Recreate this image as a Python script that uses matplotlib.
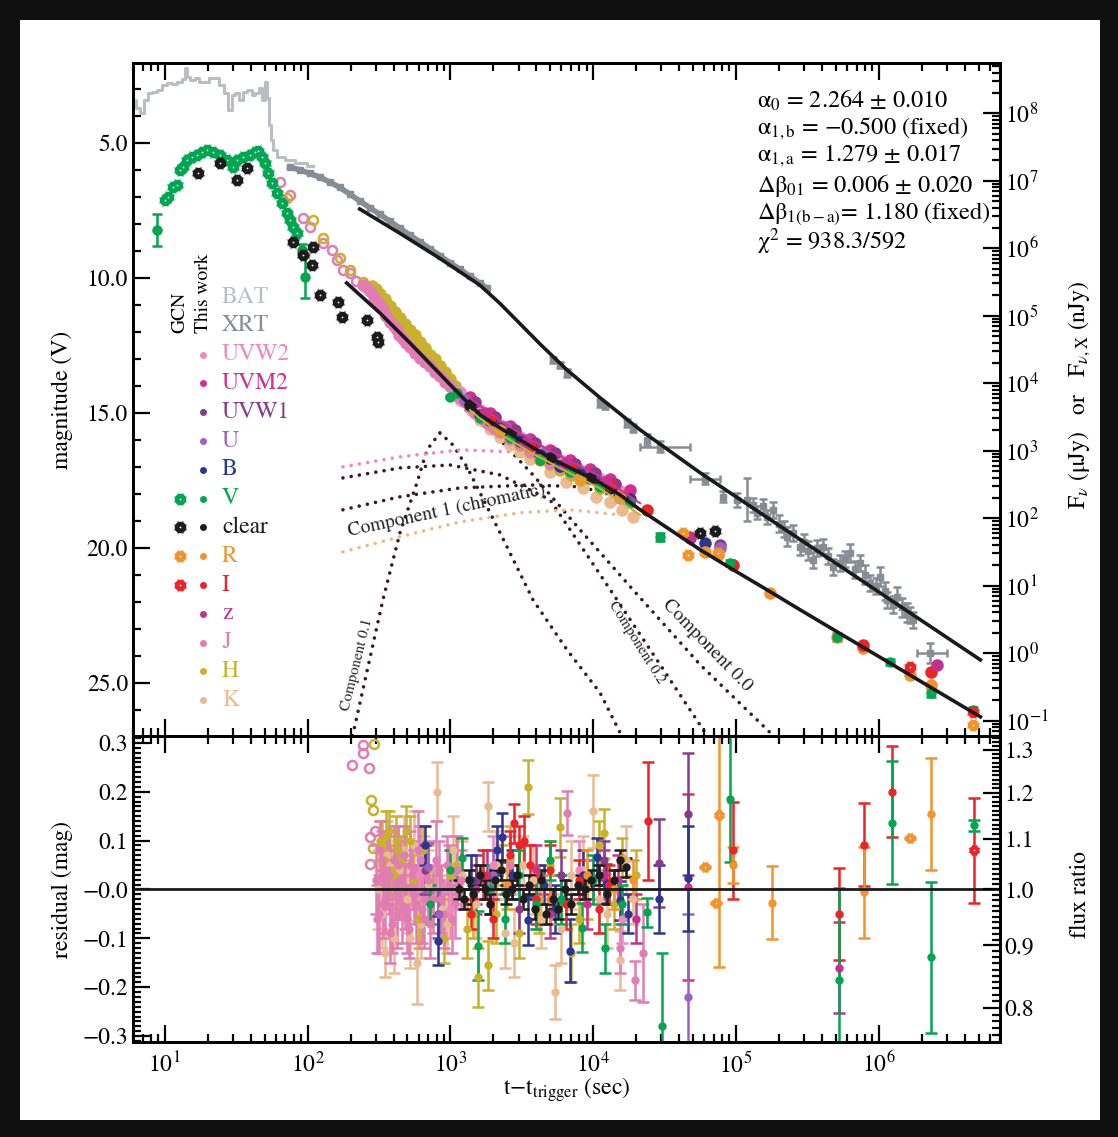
import numpy as np
import matplotlib.pyplot as plt
from matplotlib.patches import Rectangle
from matplotlib.lines import Line2D
from matplotlib.ticker import (LogLocator, FixedLocator, MultipleLocator,
                               FuncFormatter, NullFormatter)

plt.rcParams['font.family'] = ['STIXGeneral', 'DejaVu Serif']
plt.rcParams['mathtext.fontset'] = 'stix'

W, H = 1118, 1137
ZP = 23.9  # AB zero point, uJy

col = {'BAT': '#b9bec5', 'XRT': '#878d95', 'UVW2': '#ef88bf', 'UVM2': '#d2308f',
       'UVW1': '#8a3a8d', 'U': '#9b62c2', 'B': '#2d3593', 'V': '#00a651',
       'clear': '#1c1c1c', 'R': '#f5932b', 'I': '#ec2327', 'z': '#c3318e',
       'J': '#e17db3', 'H': '#c9b22b', 'K': '#eabb91'}
comp_col = '#3b1a22'

# ---------------- light curves (top panel) ----------------
bat_t = [6.0, 6.5, 6.9, 7.4, 7.9, 8.5, 9.2, 10.0, 10.8, 11.7, 12.7, 13.8, 14.0, 14.5,
         15.7, 16.8, 18.2, 19.7, 21.3, 23.1, 25.1, 27.2, 28.6, 30.5, 32.0, 34.1, 36.4,
         39.5, 42.1, 44.2, 47.1, 49.4, 51.1, 52.7, 54.5, 56.3, 59.0, 64.0, 75.2, 88.3, 109]
bat_mag = [3.41, 3.70, 3.89, 3.41, 3.15, 3.11, 3.04, 2.85, 2.78, 2.81, 2.74, 2.63, 2.22, 2.56,
           2.67, 2.59, 2.74, 2.74, 2.59, 2.59, 2.85, 3.15, 3.78, 3.22, 3.15, 3.41, 3.11,
           3.04, 3.22, 3.15, 2.96, 3.41, 2.74, 3.33, 4.33, 4.89, 5.26, 5.52, 5.63, 5.74, 5.85]

xrt_early_t = [75, 88, 104, 122, 143, 168, 198, 232, 273, 321, 377, 444, 521, 612, 719,
               845, 993, 1167, 1371, 1611, 1806]
xrt_early_mag = [5.89, 6.0, 6.13, 6.27, 6.45, 6.65, 6.90, 7.15, 7.40, 7.65, 7.90, 8.16, 8.42,
                 8.66, 8.92, 9.18, 9.44, 9.68, 9.94, 10.2, 10.38]

xrt_t = [5236, 5861, 6560, 11170, 12110, 17280, 19050, 23890, 81330, 101900, 119900, 132100,
         165600, 182500, 228700, 282000, 347700, 408500, 537000, 631000, 741000, 871000,
         1024000, 1148000, 1349000, 1585000, 1746000,
         140000, 155000, 200000, 215000, 250000, 300000, 320000, 370000, 440000, 480000,
         580000, 680000, 800000, 950000, 1100000, 1250000, 1450000, 1650000]
xrt_mag = [13.04, 13.22, 13.52, 14.63, 14.74, 15.37, 15.56, 16.0, 18.11, 18.22, 18.22, 18.41,
           18.85, 18.59, 19.59, 19.96, 20.44, 19.96, 20.56, 20.19, 20.56, 21.30,
           21.07, 21.93, 21.81, 22.41, 22.67,
           18.7, 18.45, 19.1, 19.3, 19.45, 19.8, 20.1, 20.0, 20.3, 20.7,
           20.4, 20.8, 21.0, 21.4, 21.6, 22.1, 22.2, 22.5]
xrt_err = [0.12, 0.12, 0.15, 0.15, 0.12, 0.15, 0.15, 0.2, 0.2, 0.25, 0.8, 0.25,
           0.25, 0.3, 0.35, 0.3, 0.3, 0.3, 0.3, 0.35, 0.3, 0.3,
           0.35, 0.3, 0.35, 0.35, 0.3,
           0.25, 0.25, 0.3, 0.3, 0.3, 0.3, 0.35, 0.3, 0.3, 0.3,
           0.3, 0.3, 0.35, 0.3, 0.35, 0.3, 0.35, 0.3]
xrt_wide_t = [29440, 60810, 2297000]
xrt_wide_lo = [21320, 47760, 1862000]
xrt_wide_hi = [47760, 77470, 3020000]
xrt_wide_mag = [16.26, 17.44, 23.89]
xrt_wide_err = [0.2, 0.2, 0.37]

# GCN points
v_gcn_t = [10.0, 10.5, 11.4, 12.1, 12.7, 13.4, 14.3, 15.5, 16.8, 18.2, 19.7, 21.7, 24.3,
           27.2, 30.0, 32.0, 35.2, 39.5, 42.7, 44.8, 47.8, 50.2, 52.7, 56.2, 60.9, 66.0,
           71.5, 75.0, 78.7, 84.0]
v_gcn_mag = [7.11, 7.0, 6.63, 6.56, 6.0, 5.89, 5.63, 5.52, 5.44, 5.33, 5.26, 5.33, 5.44,
             5.63, 5.89, 5.63, 5.52, 5.44, 5.33, 5.30, 5.52, 5.74, 6.11, 6.48, 6.85, 7.22,
             7.59, 7.85, 8.11, 8.33]
clear_gcn_t = [17.0, 24.3, 32.0, 37.6, 78.9, 92.7, 109, 107, 122, 163, 174, 261, 306, 311,
               56100, 71500]
clear_gcn_mag = [6.11, 5.74, 6.37, 5.93, 8.67, 9.15, 8.85, 9.52, 10.63, 10.89, 11.44, 11.56,
                 12.19, 12.37, 19.44, 19.37]
r_gcn_t = [42700, 46200, 75000, 4590000]
r_gcn_mag = [19.44, 20.26, 20.19, 26.56]
i_gcn_t = [1660000, 4590000]
i_gcn_mag = [24.41, 26.07]

# this work
v_t = [8.9, 91.0, 95.7, 993, 1112, 1611, 2617, 4246, 6890, 11170, 18150, 29440, 91000,
       512000, 1205000, 2300000, 4590000]
v_mag = [8.22, 8.96, 9.96, 14.41, 14.26, 15.19, 15.93, 16.74, 17.19, 17.74, 18.33, 19.59,
         20.56, 23.30, 24.22, 25.37, 26.0]
v_err = [0.6, 0.2, 0.8, 0.05, 0.05, 0.05, 0.05, 0.05, 0.05, 0.05, 0.05, 0.15, 0.12,
         0.15, 0.12, 0.15, 0.1]
uvw2_t = [1167, 1611, 2228, 3076, 4246, 5861, 8090, 11170, 15440, 1400, 1950, 2650, 3600,
          5000, 6900, 9500]
uvw2_mag = [14.22, 14.89, 15.44, 15.9, 16.4, 16.75, 17.1, 17.45, 17.9, 14.6, 15.15, 15.65,
            16.15, 16.55, 16.9, 17.25]
uvm2_t = [1371, 1895, 2617, 3614, 4990, 6890, 9520, 13130, 18150, 47760]
uvm2_mag = [14.41, 15.0, 15.5, 15.95, 16.38, 16.75, 17.08, 17.45, 17.85, 19.59]
uvw1_t = [1486, 2054, 2838, 3917, 5410, 7470, 10310, 14230, 77470]
uvw1_mag = [14.59, 15.15, 15.65, 16.1, 16.5, 16.88, 17.22, 17.62, 19.89]
u_t = [1265, 1748, 2414, 3334, 4600, 6350, 8770, 12110, 77470]
u_mag = [14.52, 15.04, 15.52, 16.0, 16.5, 16.88, 17.26, 17.64, 20.0]
b_t = [1611, 2228, 3076, 4246, 5861, 8090, 11170, 18150, 60800]
b_mag = [15.07, 15.56, 16.05, 16.55, 16.95, 17.28, 17.65, 18.2, 19.81]
clear_t = [1371, 1895, 2617, 3614, 4990, 6890, 9520, 13130]
clear_mag = [14.70, 15.26, 15.75, 16.2, 16.68, 17.08, 17.4, 17.78]
r_t = [2228, 4246, 8090, 15440, 60800, 75000, 174000, 512000, 778000, 1660000, 2300000]
r_mag = [15.63, 16.74, 17.41, 18.11, 20.15, 20.26, 21.67, 23.30, 23.70, 24.70, 25.07]
i_t = [1895, 3614, 6890, 13130, 23900, 95500, 778000, 2300000]
i_mag = [15.19, 16.22, 17.04, 17.67, 18.59, 20.63, 23.59, 24.59]
z_t = [1748, 3334, 6350, 12110, 47760, 2570000]
z_mag = [15.0, 16.11, 16.89, 17.56, 19.63, 24.33]
j_t = [244, 273, 306, 337, 377, 423, 465, 521, 612, 719, 845, 993, 1167, 1371, 1611, 1895,
       2228, 3076, 4246, 5861, 8090, 11170, 15440,
       255, 290, 320, 355, 400, 440, 490, 565, 660, 780, 920, 1080, 1270, 1490, 1750, 2050,
       2600, 3600, 5000, 7000]
j_mag = [10.25, 10.50, 10.87, 11.17, 11.62, 11.93, 12.25, 12.55, 12.95, 13.28, 13.63, 14.02,
         14.44, 14.78, 15.15, 15.44, 15.70, 16.15, 16.6, 17.0, 17.33, 17.68, 18.15,
         10.35, 10.72, 11.0, 11.4, 11.78, 12.1, 12.42, 12.78, 13.12, 13.5, 13.85, 14.25, 14.6,
         15.0, 15.3, 15.6, 15.95, 16.4, 16.85, 17.2]
j_open_t = [64, 75, 92.7, 104, 128, 148, 160, 177, 198, 220]
j_open_mag = [6.44, 6.93, 7.78, 8.11, 8.70, 8.96, 9.33, 9.70, 9.81, 10.1]
h_t = [282, 321, 377, 444, 521, 612, 719, 845, 993, 1167, 1611, 2228, 3076, 4246, 5861,
       8090, 11170,
       300, 350, 410, 480, 565, 665, 780, 920, 1080, 1350, 1900, 2600, 3600, 5000, 7000]
h_mag = [10.3, 10.6, 11.05, 11.5, 11.92, 12.38, 12.85, 13.28, 13.75, 14.26, 15.0, 15.63,
         16.2, 16.7, 17.1, 17.48, 17.78,
         10.4, 10.8, 11.28, 11.7, 12.12, 12.6, 13.02, 13.5, 14.0, 14.6, 15.35, 15.9, 16.45,
         16.9, 17.3]
h_open_t = [71.6, 109, 128, 168, 198, 244, 292]
h_open_mag = [7.04, 7.85, 8.52, 9.26, 9.70, 10.15, 10.44]
k_t = [321, 444, 612, 845, 1167, 1611, 2228, 3076, 4990, 8490, 13130, 19050,
       350, 400, 520, 720, 1000, 1400, 1900, 2600, 3600, 6500, 10500, 16000]
k_mag = [11.0, 11.85, 12.67, 13.59, 14.52, 15.26, 15.89, 16.44, 17.2, 17.8, 18.3, 18.85,
         11.3, 11.55, 12.3, 13.1, 14.0, 14.9, 15.6, 16.2, 16.7, 17.55, 18.1, 18.6]

# models
opt_model_t = [188, 321, 521, 845, 1167, 1611, 2228, 3076, 4990, 8090, 11170, 15440, 21320,
               34590, 56110, 95450, 165500, 282000, 537000, 1415000, 5140000]
opt_model_mag = [10.19, 11.30, 12.41, 13.56, 14.33, 15.07, 15.56, 16.0, 16.67, 17.22, 17.59,
                 18.04, 18.59, 19.33, 20.07, 20.81, 21.56, 22.30, 23.18, 24.5, 26.26]
uvm2_model_t = [1371, 2228, 3614, 5861, 11170, 21320]
uvm2_model_mag = [14.45, 15.3, 15.98, 16.6, 17.35, 18.35]
k_model_t = [1371, 2228, 3614, 5861, 11170, 21320]
k_model_mag = [14.9, 15.78, 16.45, 17.05, 17.8, 18.78]
xrt_model_t = [232, 444, 845, 1611, 2228, 3076, 4246, 6560, 11170, 21320, 56110, 165500,
               537000, 1415000, 5140000]
xrt_model_mag = [7.45, 8.35, 9.28, 10.27, 10.95, 11.7, 12.45, 13.41, 14.44, 15.63, 17.22,
                 18.88, 20.68, 22.17, 24.15]

comp01_t = [207, 337, 444, 584, 686, 845, 1043, 1307, 2228, 3793, 6560, 11170, 15440]
comp01_mag = [26.96, 21.93, 19.44, 17.59, 16.37, 15.74, 16.19, 17.0, 19.44, 21.93, 23.78,
              25.37, 26.85]
comp02_t = [177, 444, 993, 2228, 4990, 14700, 29440, 62800]
comp02_mag = [17.41, 17.04, 16.93, 17.30, 18.22, 21.93, 24.33, 26.96]
comp00_t = [1167, 2228, 3793, 8090, 19050, 56110, 182500]
comp00_mag = [14.70, 16.0, 17.30, 19.33, 21.56, 24.33, 26.96]
comp1_v_t = [177, 444, 1167, 3614, 8090, 15440]
comp1_v_mag = [18.59, 18.11, 17.78, 17.67, 17.74, 18.11]
comp1_uvw2_t = [177, 444, 1167, 2617, 4990]
comp1_uvw2_mag = [17.0, 16.63, 16.37, 16.44, 16.74]
comp1_k_t = [177, 444, 1167, 3076, 6890, 15440]
comp1_k_mag = [20.15, 19.59, 19.04, 18.70, 18.59, 18.78]

# ---------------- residuals (bottom panel) ----------------
j_res_t = [300, 315, 330, 350, 370, 390, 410, 430, 455, 480, 510, 540, 575, 610, 650, 700,
           760, 830, 900, 980, 1080, 1180, 2600, 6560, 15420, 19700, 22400,
           305, 322, 340, 360, 380, 400, 420, 445, 470, 495, 525, 560, 590, 630, 670, 720,
           790, 860, 940, 1020, 1120]
j_res = [0.02, -0.05, 0.06, -0.02, 0.03, -0.07, 0.01, 0.05, -0.04, 0.0, -0.08, 0.03, -0.03,
         0.06, -0.06, 0.02, -0.02, 0.04, -0.05, 0.01, -0.03, 0.02, 0.05, 0.156, -0.12,
         -0.186, -0.13,
         -0.06, 0.08, -0.03, 0.04, -0.09, 0.06, -0.05, 0.02, 0.07, -0.06, 0.05, -0.01, 0.08,
         -0.04, 0.03, -0.07, 0.06, -0.02, 0.05, -0.06, 0.04]
j_res_err = [0.07, 0.08, 0.06, 0.07, 0.08, 0.06, 0.07, 0.08, 0.07, 0.08, 0.06, 0.07, 0.08,
             0.07, 0.06, 0.08, 0.07, 0.06, 0.07, 0.08, 0.07, 0.06, 0.06, 0.045, 0.05,
             0.04, 0.1,
             0.07, 0.06, 0.07, 0.08, 0.06, 0.07, 0.07, 0.08, 0.06, 0.07, 0.07, 0.06, 0.08,
             0.07, 0.06, 0.07, 0.08, 0.07, 0.06, 0.07, 0.07]
j_open_res_t = [204, 244, 244, 269, 273, 273, 296]
j_open_res = [0.254, 0.295, 0.28, 0.248, 0.107, 0.053, 0.12]
h_open_res_t = [292, 278, 287, 287]
h_open_res = [0.297, 0.184, 0.162, 0.084]
h_res_t = [320, 345, 370, 400, 430, 470, 520, 600, 700, 900, 1100, 1300, 1560, 1837, 2100,
           2600, 3500, 4200, 5861, 7000, 9000, 12000, 16000, 20000,
           330, 355, 385, 415, 450, 490, 550, 640, 760, 1000, 1450, 2300, 3000, 5000, 8000,
           11000, 14000]
h_res = [0.10, 0.06, 0.12, 0.03, 0.08, 0.0, 0.10, -0.06, 0.04, -0.10, 0.05, -0.08, -0.18,
         -0.155, -0.05, 0.06, 0.21, -0.02, 0.127, -0.13, 0.0, 0.115, 0.065, 0.03,
         0.09, 0.11, 0.04, 0.10, 0.06, 0.12, 0.02, 0.08, -0.02, 0.03, -0.05, 0.04, -0.09,
         0.05, -0.06, 0.09, -0.03]
h_res_err = [0.04, 0.05, 0.04, 0.05, 0.05, 0.06, 0.05, 0.06, 0.05, 0.05, 0.06, 0.06, 0.06,
             0.05, 0.06, 0.07, 0.055, 0.07, 0.06, 0.06, 0.06, 0.05, 0.04, 0.05,
             0.05, 0.05, 0.05, 0.05, 0.05, 0.05, 0.05, 0.05, 0.05, 0.05, 0.05, 0.05, 0.05,
             0.05, 0.05, 0.05, 0.05]
k_res_t = [310, 348, 380, 420, 470, 520, 584, 650, 806, 950, 1200, 1837, 2400, 3200, 4300,
           5410, 7000, 9980, 12500, 15420, 19000,
           330, 360, 400, 440, 500, 560, 620, 700, 880, 1050, 1500, 2100, 2800, 3800, 6000,
           8500, 11000, 17000]
k_res = [0.0, -0.13, 0.05, -0.05, 0.08, -0.10, -0.15, 0.04, 0.20, -0.07, 0.03, 0.17, -0.09,
         0.05, -0.06, -0.21, 0.03, 0.16, -0.05, -0.145, -0.02,
         -0.05, 0.07, -0.1, 0.04, -0.02, 0.09, -0.07, 0.01, -0.04, 0.08, -0.03, 0.05, -0.11,
         0.02, -0.08, 0.04, -0.02, 0.06]
k_res_err = [0.08, 0.05, 0.07, 0.06, 0.07, 0.06, 0.085, 0.07, 0.06, 0.06, 0.07, 0.05, 0.07,
             0.06, 0.06, 0.055, 0.07, 0.075, 0.07, 0.06, 0.05,
             0.07, 0.07, 0.07, 0.07, 0.07, 0.07, 0.07, 0.07, 0.07, 0.07, 0.07, 0.07, 0.07,
             0.07, 0.07, 0.07, 0.07, 0.07]
uvw2_res_t = [600, 1000, 2000, 4000, 8000, 16000]
uvw2_res = [0.03, -0.04, 0.05, -0.02, 0.04, -0.06]
uvw2_res_err = [0.06, 0.06, 0.06, 0.06, 0.06, 0.05]
uvm2_res_t = [1500, 4000, 9000, 15000, 46200]
uvm2_res = [0.0, 0.04, -0.03, 0.02, 0.005]
uvm2_res_err = [0.05, 0.05, 0.05, 0.05, 0.19]
uvw1_res_t = [663, 820, 1500, 3000, 6000, 12000, 29000, 46200]
uvw1_res = [0.04, -0.05, 0.02, -0.04, 0.03, 0.06, 0.055, 0.155]
uvw1_res_err = [0.05, 0.05, 0.05, 0.05, 0.05, 0.04, 0.09, 0.125]
u_res_t = [700, 830, 2000, 5000, 10000, 46200]
u_res = [0.045, -0.05, 0.03, -0.02, 0.02, -0.22]
u_res_err = [0.05, 0.05, 0.05, 0.05, 0.04, 0.17]
b_res_t = [663, 818, 1400, 2125, 2300, 2700, 3500, 4500, 5400, 6890, 8500, 10640, 12200,
           15400, 17500, 29000, 46200]
b_res = [0.09, -0.105, 0.02, 0.08, 0.107, 0.03, -0.063, 0.01, -0.04, -0.125, 0.03, 0.066,
         0.012, -0.022, -0.05, -0.02, 0.023]
b_res_err = [0.04, 0.05, 0.05, 0.05, 0.05, 0.05, 0.05, 0.04, 0.05, 0.065, 0.05, 0.04, 0.04,
             0.04, 0.04, 0.07, 0.107]
v_res_t = [719, 1000, 1200, 1560, 1900, 2400, 3000, 4000, 5000, 6000, 8360, 10000, 12110,
           16000, 23900, 30400, 91000, 528000, 1245000, 2330000, 4670000]
v_res = [-0.03, 0.04, 0.065, -0.115, 0.0, -0.06, 0.03, -0.03, 0.06, -0.02, -0.078, 0.02,
         -0.12, -0.03, -0.047, -0.28, 0.186, -0.186, 0.137, -0.139, 0.131]
v_res_err = [0.04, 0.04, 0.04, 0.07, 0.05, 0.05, 0.05, 0.05, 0.04, 0.05, 0.05, 0.05, 0.05,
             0.04, 0.03, 0.15, 0.13, 0.19, 0.125, 0.155, 0.012]
clear_res_t = [1150, 1250, 1350, 1450, 1600, 1750, 1900, 2050, 2250, 2450, 2700, 2950, 3250,
               3550, 3900, 4300, 4700, 5200, 5700, 6300, 7000, 7800, 8700, 9600, 11000,
               12500, 14000, 15500, 17000]
clear_res = [0.0, -0.02, 0.02, -0.01, 0.03, 0.0, -0.03, 0.02, 0.04, -0.01, 0.0, 0.03, -0.02,
             0.01, -0.04, 0.02, -0.05, -0.02, -0.04, 0.0, -0.03, 0.01, 0.0, 0.02, 0.03,
             -0.01, 0.02, 0.06, 0.045]
clear_res_err = [0.02] * 29
r_res_t = [2500, 5000, 9000, 14000, 19000, 95500, 179500, 790000, 2330000]
r_res = [0.01, -0.02, 0.03, 0.0, 0.02, 0.05, -0.027, -0.006, 0.155]
r_res_err = [0.05, 0.05, 0.05, 0.04, 0.04, 0.037, 0.075, 0.093, 0.115]
r_gcn_res_t = [60800, 72600, 76200, 1660000]
r_gcn_res = [0.045, -0.027, 0.152, 0.105]
r_gcn_res_err = [0.0, 0.0, 0.31, 0.0]
i_res_t = [1400, 1700, 2000, 2600, 2800, 3000, 3300, 3600, 4000, 5000, 6500, 8000, 11000,
           13000, 24300, 95500, 528000, 790000, 1245000]
i_res = [-0.05, 0.03, -0.06, 0.07, 0.135, 0.09, 0.10, 0.05, -0.02, 0.04, -0.03, 0.02, -0.04,
         0.01, 0.14, 0.08, -0.05, 0.092, 0.2]
i_res_err = [0.03, 0.05, 0.04, 0.05, 0.04, 0.04, 0.05, 0.04, 0.05, 0.05, 0.05, 0.04, 0.05,
             0.04, 0.12, 0.1, 0.094, 0.084, 0.093]
i_gcn_res_t = [4670000]
i_gcn_res = [0.08]
i_gcn_res_err = [0.107]
z_res_t = [1800, 5000, 12000, 20000, 528000]
z_res = [0.03, -0.05, 0.03, -0.06, -0.16]
z_res_err = [0.05, 0.05, 0.05, 0.05, 0.093]

legend_bands = ['BAT', 'XRT', 'UVW2', 'UVM2', 'UVW1', 'U', 'B', 'V', 'clear', 'R', 'I',
                'z', 'J', 'H', 'K']
legend_gcn = ['V', 'clear', 'R', 'I']

params_text = ['α$_0$ = 2.264 ± 0.010',
               'α$_{\\mathrm{1,b}}$ = −0.500 (fixed)',
               'α$_{\\mathrm{1,a}}$ = 1.279 ± 0.017',
               'Δβ$_{\\mathrm{01}}$ = 0.006 ± 0.020',
               'Δβ$_{\\mathrm{1(b-a)}}$= 1.180 (fixed)',
               'χ$^2$ = 938.3/592']


def fx(x):
    return x / W


def fy(y):
    return 1 - y / H


GEAR = [((8, 1, 22.5), 1.2), ('o', 0.92)]


def gear(a, t, m, c, ms=9):
    for mk, sc in GEAR:
        a.plot(t, m, ls='none', marker=mk, ms=ms * sc, color=c, mew=0, zorder=4)
    a.plot(t, m, ls='none', marker='o', ms=ms * 0.14, color='white', mew=0, zorder=4)


def dots(a, t, m, c, e=None, ms=4.5, lw=1.8, cs=3.5, z=3):
    a.errorbar(t, m, yerr=e, fmt='o', color=c, mec=c, ms=ms, lw=lw, capsize=cs,
               capthick=lw, zorder=z)


fig = plt.figure(figsize=(W / 100, H / 100), dpi=100)
fig.patch.set_facecolor('#101010')
fig.add_artist(Rectangle((fx(20), fy(1120)), fx(1100) - fx(20), fy(20) - fy(1120),
                         transform=fig.transFigure, facecolor='white', edgecolor='none',
                         zorder=-10))

ax = fig.add_axes([fx(133), fy(736), fx(1000) - fx(133), fy(63) - fy(736)])
axb = fig.add_axes([fx(133), fy(1042), fx(1000) - fx(133), fy(736) - fy(1042)], sharex=ax)

# ---- top panel ----
ax.set_xscale('log')
ax.set_xlim(6.0, 7.05e6)
ax.set_ylim(26.97, 2.04)

ax.plot(bat_t, bat_mag, drawstyle='steps-mid', color=col['BAT'], lw=2.2, zorder=2)
ax.plot(xrt_early_t, xrt_early_mag, color=col['XRT'], lw=4, marker='s', ms=4, zorder=2)
ax.errorbar(xrt_t, xrt_mag, yerr=xrt_err, fmt='s', color=col['XRT'], mec=col['XRT'], ms=5,
            lw=1.8, capsize=3, capthick=1.8, zorder=2)
ax.errorbar(xrt_wide_t, xrt_wide_mag, yerr=xrt_wide_err,
            xerr=[np.subtract(xrt_wide_t, xrt_wide_lo), np.subtract(xrt_wide_hi, xrt_wide_t)],
            fmt='s', color=col['XRT'], mec=col['XRT'], ms=5, lw=1.8, capsize=3,
            capthick=1.8, zorder=2)

for t, m, c in [(comp01_t, comp01_mag, comp_col), (comp02_t, comp02_mag, comp_col),
                (comp00_t, comp00_mag, comp_col), (comp1_v_t, comp1_v_mag, comp_col),
                (comp1_uvw2_t, comp1_uvw2_mag, col['UVW2']),
                (comp1_k_t, comp1_k_mag, col['K'])]:
    ax.plot(t, m, ls=(0, (0.01, 2.3)), color=c, lw=2.6, dash_capstyle='round', zorder=1)

ax.plot(j_open_t, j_open_mag, 'o', mfc='none', mec=col['J'], mew=1.8, ms=6.5, zorder=3)
ax.plot(h_open_t, h_open_mag, 'o', mfc='none', mec=col['H'], mew=1.8, ms=6.5, zorder=3)
for t, m, b in [(k_t, k_mag, 'K'), (h_t, h_mag, 'H'), (j_t, j_mag, 'J'),
                (uvw2_t, uvw2_mag, 'UVW2'), (uvm2_t, uvm2_mag, 'UVM2'),
                (uvw1_t, uvw1_mag, 'UVW1'), (u_t, u_mag, 'U'), (b_t, b_mag, 'B'),
                (clear_t, clear_mag, 'clear'), (r_t, r_mag, 'R'), (i_t, i_mag, 'I'),
                (z_t, z_mag, 'z')]:
    dots(ax, t, m, col[b], ms=8)
dots(ax, v_t, v_mag, col['V'], e=v_err, ms=6.5)

gear(ax, v_gcn_t, v_gcn_mag, col['V'])
gear(ax, clear_gcn_t, clear_gcn_mag, col['clear'])
gear(ax, r_gcn_t, r_gcn_mag, col['R'])
gear(ax, i_gcn_t, i_gcn_mag, col['I'])

ax.plot(uvm2_model_t, uvm2_model_mag, color=col['UVM2'], lw=1.5, zorder=5)
ax.plot(k_model_t, k_model_mag, color=col['H'], lw=1.5, zorder=5)
ax.plot(opt_model_t, opt_model_mag, color='#1a1a1a', lw=2.6, zorder=6)
ax.plot(xrt_model_t, xrt_model_mag, color='#1a1a1a', lw=2.6, zorder=6)

ax.yaxis.set_major_locator(MultipleLocator(5))
ax.yaxis.set_minor_locator(MultipleLocator(1))
ax.yaxis.set_major_formatter(FuncFormatter(lambda v, p: f'{v:.1f}'))

ax.text(fx(357), fy(665), 'Component 0.1', transform=fig.transFigure, rotation=76,
        ha='center', va='center', fontsize=11, color='#222222')
ax.text(fx(447), fy(511), 'Component 1 (chromatic)', transform=fig.transFigure, rotation=12,
        ha='center', va='center', fontsize=14, color='#222222')
ax.text(fx(637), fy(642), 'Component 0.2', transform=fig.transFigure, rotation=-58,
        ha='center', va='center', fontsize=11, color='#222222')
ax.text(fx(707), fy(645), 'Component 0.0', transform=fig.transFigure, rotation=-46,
        ha='center', va='center', fontsize=14, color='#222222')

for k, s in enumerate(params_text):
    fig.text(fx(757), fy(100 + 28.4 * k), s, ha='left', va='center', fontsize=17.5)

# legend
fig.text(fx(180), fy(333), 'GCN', rotation=90, ha='center', va='bottom', fontsize=14)
fig.text(fx(203), fy(333), 'This work', rotation=90, ha='center', va='bottom', fontsize=14)
for k, b in enumerate(legend_bands):
    yy = fy(297 + 28.8 * k)
    fig.text(fx(222), yy, b, ha='left', va='center', fontsize=17, color=col[b])
    if k >= 2:
        fig.add_artist(Line2D([fx(203)], [yy], marker='o', ms=5, color=col[b], mew=0,
                              transform=fig.transFigure))
    if b in legend_gcn:
        for mk, sc in GEAR:
            fig.add_artist(Line2D([fx(180)], [yy], marker=mk, ms=9 * sc, color=col[b], mew=0,
                                  transform=fig.transFigure))
        fig.add_artist(Line2D([fx(180)], [yy], marker='o', ms=9 * 0.14, color='white', mew=0,
                              transform=fig.transFigure))

axr = ax.twinx()
axr.set_yscale('log')
axr.set_ylim(10 ** ((ZP - 26.97) / 2.5), 10 ** ((ZP - 2.04) / 2.5))
axr.yaxis.set_major_locator(FixedLocator([1e-1, 1e0, 1e1, 1e2, 1e3, 1e4, 1e5, 1e6, 1e7, 1e8]))
axr.yaxis.set_minor_locator(LogLocator(base=10, subs=np.arange(2, 10), numticks=20))
axr.yaxis.set_minor_formatter(NullFormatter())

# ---- bottom panel ----
axb.set_ylim(-0.312, 0.314)
axb.axhline(0, color='#1a1a1a', lw=2, zorder=6)
for t, r, e, b in [(k_res_t, k_res, k_res_err, 'K'), (h_res_t, h_res, h_res_err, 'H'),
                   (j_res_t, j_res, j_res_err, 'J'),
                   (uvw2_res_t, uvw2_res, uvw2_res_err, 'UVW2'),
                   (uvm2_res_t, uvm2_res, uvm2_res_err, 'UVM2'),
                   (uvw1_res_t, uvw1_res, uvw1_res_err, 'UVW1'),
                   (u_res_t, u_res, u_res_err, 'U'), (b_res_t, b_res, b_res_err, 'B'),
                   (z_res_t, z_res, z_res_err, 'z'), (i_res_t, i_res, i_res_err, 'I'),
                   (r_res_t, r_res, r_res_err, 'R'), (v_res_t, v_res, v_res_err, 'V'),
                   (clear_res_t, clear_res, clear_res_err, 'clear')]:
    dots(axb, t, r, col[b], e=e, ms=5, cs=4)
axb.errorbar(r_gcn_res_t, r_gcn_res, yerr=r_gcn_res_err, fmt='none', ecolor=col['R'], lw=1.8,
             capsize=4, capthick=1.8)
gear(axb, r_gcn_res_t, r_gcn_res, col['R'], ms=8)
axb.errorbar(i_gcn_res_t, i_gcn_res, yerr=i_gcn_res_err, fmt='none', ecolor=col['I'], lw=1.8,
             capsize=4, capthick=1.8)
gear(axb, i_gcn_res_t, i_gcn_res, col['I'], ms=8)
axb.plot(j_open_res_t, j_open_res, 'o', mfc='none', mec=col['J'], mew=1.8, ms=6.5)
axb.plot(h_open_res_t, h_open_res, 'o', mfc='none', mec=col['H'], mew=1.8, ms=6.5)

axb.yaxis.set_major_locator(MultipleLocator(0.1))
axb.yaxis.set_minor_locator(MultipleLocator(0.01))
axb.yaxis.set_major_formatter(FuncFormatter(
    lambda v, p: ('−' if (v < 0 or abs(v) < 1e-9) else '') + f'{abs(v):.1f}'))

axbr = axb.twinx()
axbr.set_yscale('log')
axbr.set_ylim(10 ** (0.4 * -0.312), 10 ** (0.4 * 0.314))
axbr.yaxis.set_major_locator(FixedLocator([0.8, 0.9, 1.0, 1.1, 1.2, 1.3]))
axbr.yaxis.set_minor_locator(FixedLocator(np.arange(0.75, 1.34, 0.01)))
axbr.yaxis.set_major_formatter(FuncFormatter(lambda v, p: f'{v:.1f}'))
axbr.yaxis.set_minor_formatter(NullFormatter())

axb.xaxis.set_major_locator(FixedLocator([1e1, 1e2, 1e3, 1e4, 1e5, 1e6]))
axb.xaxis.set_minor_locator(LogLocator(base=10, subs=np.arange(2, 10), numticks=20))
axb.xaxis.set_minor_formatter(NullFormatter())

for a in (ax, axb, axr, axbr):
    for s in a.spines.values():
        s.set_linewidth(2.0)
    a.tick_params(which='both', direction='in', width=1.6, labelsize=17)
    a.tick_params(which='major', length=12)
    a.tick_params(which='minor', length=6)
for a in (ax, axb):
    a.tick_params(which='both', top=True, bottom=True)
ax.tick_params(labelbottom=False)
axb.tick_params(axis='x', pad=7)

fig.text(fx(62), fy(400), 'magnitude (V)', rotation=90, ha='center', va='center', fontsize=17)
fig.text(fx(62), fy(890), 'residual (mag)', rotation=90, ha='center', va='center', fontsize=17)
fig.text(fx(1080), fy(395), 'F$_{\\nu}$ (μJy)   or   F$_{\\nu\\mathrm{,X}}$ (nJy)', rotation=90,
         ha='center', va='center', fontsize=17)
fig.text(fx(1080), fy(895), 'flux ratio', rotation=90, ha='center', va='center', fontsize=17)
fig.text(fx(567), fy(1090), 't−t$_{\\mathrm{trigger}}$ (sec)', ha='center', va='center',
         fontsize=17)

fig.savefig('out.png', dpi=100, facecolor=fig.get_facecolor())
